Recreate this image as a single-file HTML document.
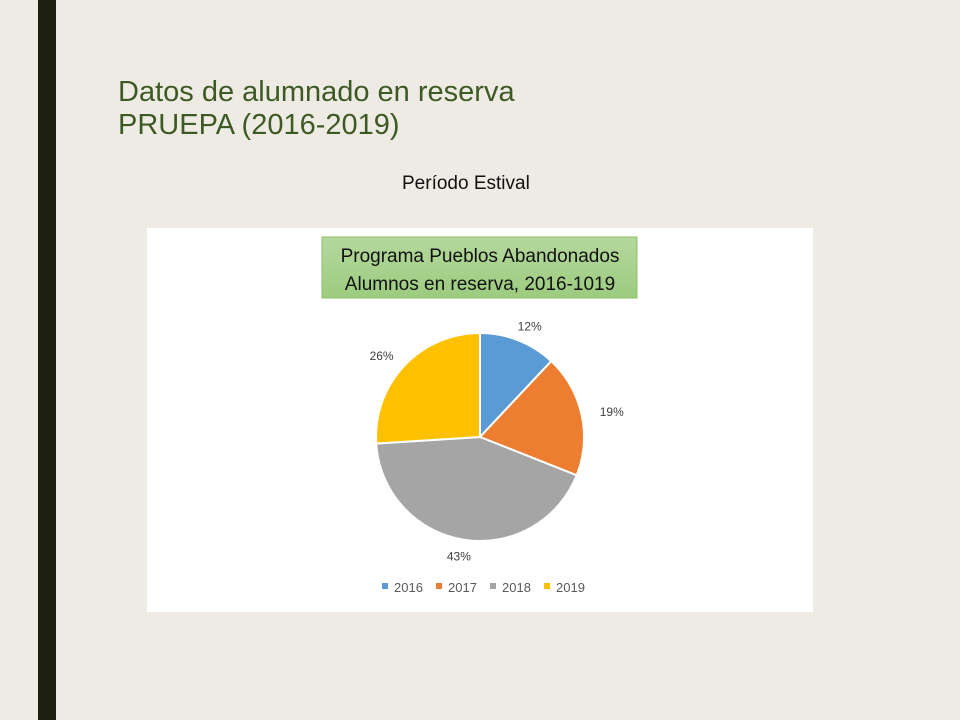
<!DOCTYPE html>
<html><head><meta charset="utf-8"><style>
body{margin:0;width:960px;height:720px;background:#eeebe4;position:relative;overflow:hidden;font-family:"Liberation Sans",sans-serif}
.bar{position:absolute;left:38px;top:0;width:18px;height:720px;background:#1d1f11}
.title{position:absolute;left:118px;top:76px;color:#3e5a24;font-size:29px;line-height:33px}
.sub{position:absolute;left:402px;top:173px;font-size:19px;color:#111}
.card{position:absolute;left:147px;top:228px;width:666px;height:384px;background:#fff}
</style></head><body>
<div class="bar"></div>
<div class="title">Datos de alumnado en reserva<br>PRUEPA (2016-2019)</div>
<div class="sub">Período Estival</div>
<div class="card"></div>
<svg id="chart" width="960" height="720" style="position:absolute;left:0;top:0">
<defs><linearGradient id="g" x1="0" y1="0" x2="0" y2="1"><stop offset="0" stop-color="#b5d89d"/><stop offset="1" stop-color="#9ccb7f"/></linearGradient></defs>
<rect x="322" y="237" width="315" height="61" fill="url(#g)" stroke="#8cc06a"/>
<text x="480" y="262" text-anchor="middle" font-size="19" fill="#111">Programa Pueblos Abandonados</text>
<text x="480" y="290" text-anchor="middle" font-size="19" fill="#111">Alumnos en reserva, 2016-1019</text>
<g id="slices"></g><g id="labels"></g><g id="legend"></g>
</svg>
<script>
const categories=["2016","2017","2018","2019"];
const values=[12,19,43,26];
const colors=["#5b9bd5","#ed7d31","#a5a5a5","#ffc000"];
const cx=480,cy=437,r=104;
const ns="http://www.w3.org/2000/svg";
const total=values.reduce((a,b)=>a+b,0);
let acc=0;
const sg=document.getElementById('slices'),lg=document.getElementById('labels'),leg=document.getElementById('legend');
function pt(a,rr){return [cx+rr*Math.sin(a),cy-rr*Math.cos(a)];}
values.forEach((v,i)=>{
 const a0=acc/total*2*Math.PI;acc+=v;const a1=acc/total*2*Math.PI;
 const p0=pt(a0,r),p1=pt(a1,r);
 const p=document.createElementNS(ns,'path');
 p.setAttribute('d',`M${cx},${cy}L${p0[0]},${p0[1]}A${r},${r} 0 ${a1-a0>Math.PI?1:0} 1 ${p1[0]},${p1[1]}Z`);
 p.setAttribute('fill',colors[i]);p.setAttribute('stroke','#fff');p.setAttribute('stroke-width','2');
 
 
 sg.appendChild(p);
 const m=(a0+a1)/2;
 const t=document.createElementNS(ns,'text');
 t.setAttribute('x',cx+135*Math.sin(m));t.setAttribute('y',cy-120*Math.cos(m)+5);
 t.setAttribute('text-anchor','middle');t.setAttribute('font-size','12');t.setAttribute('fill','#404040');
 t.textContent=Math.round(v/total*100)+'%';
 
 
 lg.appendChild(t);
 const lx=382+i*54;
 const s=document.createElementNS(ns,'rect');
 s.setAttribute('x',lx);s.setAttribute('y',583);s.setAttribute('width',6);s.setAttribute('height',6);s.setAttribute('fill',colors[i]);
 
 
 leg.appendChild(s);
 const lt=document.createElementNS(ns,'text');
 lt.setAttribute('x',lx+12);lt.setAttribute('y',592);lt.setAttribute('font-size','13');lt.setAttribute('fill','#595959');
 lt.textContent=categories[i];
 
 
 leg.appendChild(lt);
});
</script>
</body></html>
